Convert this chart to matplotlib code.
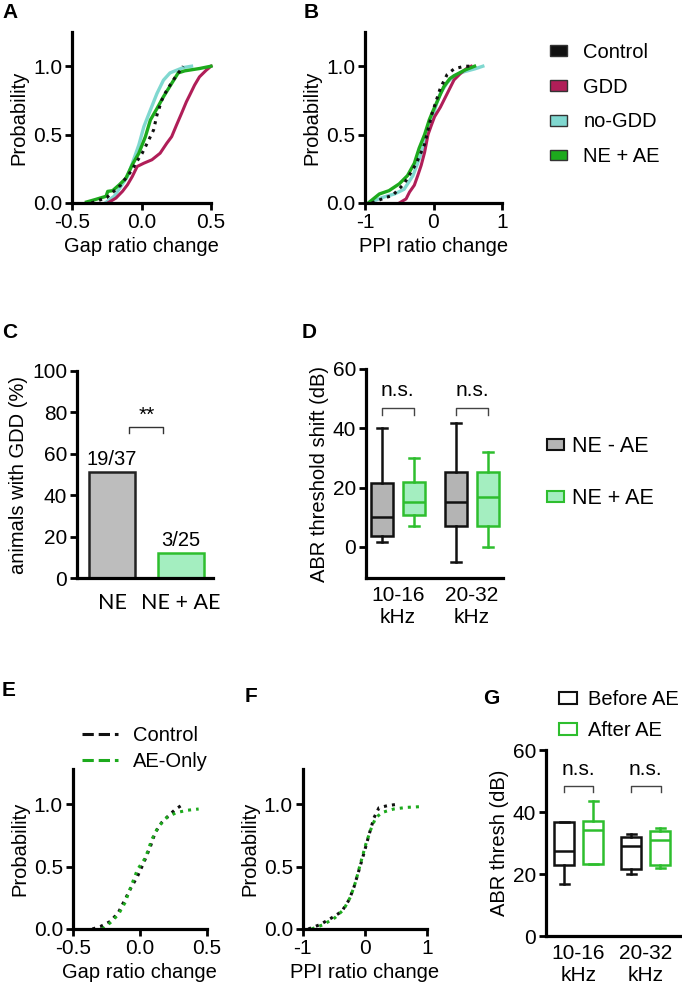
import matplotlib
matplotlib.use('Agg')
import matplotlib.pyplot as plt
from matplotlib.patches import Patch
from matplotlib.lines import Line2D

plt.rcParams['font.family'] = ['Liberation Sans', 'DejaVu Sans']
plt.rcParams['axes.unicode_minus'] = False

# ---------------- data ----------------
# Panel A: cumulative probability vs gap ratio change
a_ctrl_x = [-0.36, -0.25, -0.15, -0.10, -0.066, -0.042, 0.005, 0.052, 0.087, 0.111, 0.146, 0.182, 0.229, 0.252, 0.28, 0.30]
a_ctrl_y = [0.0, 0.04, 0.13, 0.20, 0.243, 0.29, 0.364, 0.46, 0.534, 0.643, 0.752, 0.825, 0.898, 0.934, 0.97, 1.0]
a_gdd_x = [-0.243, -0.184, -0.137, -0.101, -0.066, -0.031, 0.017, 0.075, 0.134, 0.182, 0.217, 0.252, 0.288, 0.323, 0.347, 0.382, 0.417, 0.465, 0.5]
a_gdd_y = [0.0, 0.036, 0.085, 0.133, 0.194, 0.267, 0.291, 0.316, 0.364, 0.437, 0.485, 0.57, 0.655, 0.74, 0.789, 0.862, 0.922, 0.97, 1.0]
a_nogdd_x = [-0.255, -0.196, -0.149, -0.101, -0.066, -0.019, 0.017, 0.064, 0.111, 0.158, 0.205, 0.30, 0.36]
a_nogdd_y = [0.005, 0.05, 0.12, 0.194, 0.29, 0.425, 0.558, 0.68, 0.80, 0.898, 0.951, 0.99, 1.0]
a_neae_x = [-0.396, -0.337, -0.255, -0.243, -0.208, -0.16, -0.113, -0.066, -0.019, 0.028, 0.064, 0.111, 0.158, 0.217, 0.264, 0.311, 0.417, 0.5]
a_neae_y = [0.007, 0.024, 0.049, 0.085, 0.09, 0.133, 0.18, 0.28, 0.364, 0.485, 0.607, 0.69, 0.777, 0.874, 0.951, 0.966, 0.983, 1.0]

# Panel B: cumulative probability vs PPI ratio change
b_ctrl_x = [-0.9, -0.7, -0.6, -0.43, -0.25, -0.13, -0.03, 0.1, 0.2, 0.3, 0.45, 0.55]
b_ctrl_y = [0.0, 0.04, 0.054, 0.14, 0.29, 0.43, 0.64, 0.84, 0.94, 0.98, 1.0, 1.0]
b_gdd_x = [-0.5, -0.4, -0.35, -0.28, -0.23, -0.18, -0.13, -0.08, -0.03, 0.015, 0.1, 0.24, 0.3, 0.4, 0.5, 0.55]
b_gdd_y = [0.0, 0.03, 0.08, 0.13, 0.2, 0.275, 0.37, 0.5, 0.57, 0.63, 0.70, 0.84, 0.9, 0.95, 0.99, 1.0]
b_nogdd_x = [-0.92, -0.75, -0.57, -0.43, -0.30, -0.21, -0.11, -0.03, 0.04, 0.1, 0.2, 0.3, 0.45, 0.6, 0.72]
b_nogdd_y = [0.005, 0.04, 0.066, 0.10, 0.20, 0.32, 0.47, 0.59, 0.72, 0.8, 0.88, 0.93, 0.96, 0.98, 1.0]
b_neae_x = [-0.94, -0.79, -0.65, -0.5, -0.38, -0.28, -0.21, -0.13, -0.06, -0.01, 0.064, 0.15, 0.24, 0.3, 0.45, 0.6]
b_neae_y = [0.005, 0.066, 0.09, 0.14, 0.2, 0.29, 0.40, 0.50, 0.61, 0.67, 0.754, 0.85, 0.91, 0.93, 0.97, 1.0]

# Panel C
c_groups = ['NE', 'NE + AE']
c_values = [19 / 37 * 100, 3 / 25 * 100]
c_labels = ['19/37', '3/25']

# Panel D: ABR threshold shift box stats (whislo, q1, med, q3, whishi)
d_freqs = ['10-16\nkHz', '20-32\nkHz']
d_ne_minus = [(1.6, 3.5, 10.0, 21.6, 40.0), (-5.0, 7.2, 15.1, 25.2, 41.7)]
d_ne_plus = [(6.9, 10.8, 15.1, 21.8, 30.0), (0.0, 7.2, 16.7, 25.2, 32.0)]

# Panel E
e_ctrl_x = [-0.353, -0.293, -0.22, -0.16, -0.11, -0.065, -0.017, 0.03, 0.08, 0.115, 0.163, 0.223, 0.27, 0.32]
e_ctrl_y = [0.0, 0.02, 0.06, 0.13, 0.235, 0.33, 0.42, 0.53, 0.66, 0.77, 0.85, 0.915, 0.96, 0.995]
e_ae_x = [-0.28, -0.22, -0.16, -0.11, -0.065, -0.017, 0.043, 0.09, 0.14, 0.2, 0.27, 0.356, 0.44]
e_ae_y = [0.0, 0.05, 0.115, 0.21, 0.34, 0.475, 0.57, 0.715, 0.82, 0.89, 0.93, 0.95, 0.96]

# Panel F
f_ctrl_x = [-0.91, -0.72, -0.53, -0.37, -0.25, -0.17, -0.09, -0.01, 0.07, 0.15, 0.23, 0.37, 0.56]
f_ctrl_y = [0.0, 0.035, 0.09, 0.14, 0.235, 0.34, 0.475, 0.61, 0.755, 0.89, 0.97, 0.987, 1.0]
f_ae_x = [-0.855, -0.667, -0.48, -0.34, -0.226, -0.145, -0.065, 0.016, 0.097, 0.177, 0.285, 0.47, 0.68, 0.95]
f_ae_y = [0.0, 0.035, 0.09, 0.155, 0.26, 0.38, 0.53, 0.675, 0.795, 0.89, 0.933, 0.96, 0.973, 0.98]

# Panel G: ABR threshold (whislo, q1, med, q3, whishi)
g_freqs = ['10-16\nkHz', '20-32\nkHz']
g_before = [(16.8, 22.9, 27.4, 36.7, 36.7), (20.0, 21.5, 29.0, 32.0, 33.0)]
g_after = [(23.2, 23.2, 34.2, 37.2, 43.5), (22.0, 23.0, 31.0, 34.0, 35.0)]

# ---------------- style ----------------
C_CTRL = '#111111'
C_GDD = '#B01E58'
C_NOGDD = '#80D8D0'
C_NEAE = '#1DAA1D'
C_MINT = '#A4EEC0'
C_GEDGE = '#2EBE2E'
C_GREY = '#B4B4B4'

W, H = 682, 991
fig = plt.figure(figsize=(W / 100, H / 100), dpi=100)
TS = 15
LS = 14.5


def ax_px(x0, x1, ytop, ybot):
    return fig.add_axes([x0 / W, 1 - ybot / H, (x1 - x0) / W, (ybot - ytop) / H])


def style(ax):
    for s in ['top', 'right']:
        ax.spines[s].set_visible(False)
    for s in ['left', 'bottom']:
        ax.spines[s].set_linewidth(2.3)
    ax.tick_params(width=2, length=5, labelsize=TS, direction='out', pad=2)


def panel(x, y, s):
    fig.text(x / W, 1 - y / H, s, fontsize=15, fontweight='bold', ha='left', va='center')


# ---- A ----
axA = ax_px(72, 211, 32, 203)
style(axA)
axA.plot(a_nogdd_x, a_nogdd_y, color=C_NOGDD, lw=2.4, clip_on=False)
axA.plot(a_gdd_x, a_gdd_y, color=C_GDD, lw=2.2, clip_on=False)
axA.plot(a_neae_x, a_neae_y, color=C_NEAE, lw=2.4, clip_on=False)
axA.plot(a_ctrl_x, a_ctrl_y, color=C_CTRL, lw=2.2, ls=':', clip_on=False)
axA.set_xlim(-0.5, 0.5)
axA.set_ylim(0, 1.25)
axA.set_xticks([-0.5, 0, 0.5], ['-0.5', '0.0', '0.5'])
axA.set_yticks([0, 0.5, 1.0], ['0.0', '0.5', '1.0'])
axA.set_xlabel('Gap ratio change', fontsize=LS, labelpad=4)
axA.set_ylabel('Probability', fontsize=LS, labelpad=3)
panel(2, 13, 'A')

# ---- B ----
axB = ax_px(365, 502, 32, 203)
style(axB)
axB.plot(b_nogdd_x, b_nogdd_y, color=C_NOGDD, lw=2.4, clip_on=False)
axB.plot(b_gdd_x, b_gdd_y, color=C_GDD, lw=2.2, clip_on=False)
axB.plot(b_neae_x, b_neae_y, color=C_NEAE, lw=2.4, clip_on=False)
axB.plot(b_ctrl_x, b_ctrl_y, color=C_CTRL, lw=2.2, ls=':', clip_on=False)
axB.set_xlim(-1, 1)
axB.set_ylim(0, 1.25)
axB.set_xticks([-1, 0, 1], ['-1', '0', '1'])
axB.set_yticks([0, 0.5, 1.0], ['0.0', '0.5', '1.0'])
axB.set_xlabel('PPI ratio change', fontsize=LS, labelpad=4)
axB.set_ylabel('Probability', fontsize=LS, labelpad=3)
panel(304, 13, 'B')

hA = [Patch(facecolor=c, edgecolor='#333333', lw=1.0) for c in [C_CTRL, C_GDD, C_NOGDD, C_NEAE]]
fig.legend(hA, ['Control', 'GDD', 'no-GDD', 'NE + AE'], loc='upper left',
           bbox_to_anchor=(550 / W, 1 - 43 / H), frameon=False, fontsize=14.5,
           handlelength=0.85, handleheight=0.45, labelspacing=0.78, handletextpad=0.8,
           borderaxespad=0, borderpad=0)

# ---- C ----
axC = ax_px(77, 213, 371, 578)
style(axC)
axC.bar([0, 1], c_values, width=0.67, color=['#BDBDBD', C_MINT],
        edgecolor=['#222222', C_GEDGE], lw=1.8)
for i, (v, lab) in enumerate(zip(c_values, c_labels)):
    axC.text(i, v + 1.5, lab, ha='center', va='bottom', fontsize=14.5)
axC.set_xlim(-0.51, 1.47)
axC.set_ylim(0, 100)
axC.set_yticks([0, 20, 40, 60, 80, 100])
axC.set_xticks([0, 1], c_groups, fontfamily='Lato', fontsize=15.5)
axC.tick_params(axis='x', length=0, pad=11)
axC.set_ylabel('animals with GDD (%)', fontsize=LS, labelpad=3)
axC.plot([0.25, 0.25, 0.74, 0.74], [70, 72.8, 72.8, 70], color='#333333', lw=1.0)
axC.text(0.5, 74, '**', ha='center', va='bottom', fontsize=15)
panel(2, 333, 'C')


def draw_boxes(ax, left_stats, right_stats, left_style, right_style, off, width):
    for stats, pos_off, st in [(left_stats, -off, left_style), (right_stats, off, right_style)]:
        bx = [dict(whislo=s[0], q1=s[1], med=s[2], q3=s[3], whishi=s[4], fliers=[]) for s in stats]
        pos = [i + pos_off for i in range(len(stats))]
        fc, ec = st
        ax.bxp(bx, positions=pos, widths=width, showfliers=False, patch_artist=True,
               capwidths=width * 0.45,
               boxprops=dict(facecolor=fc, edgecolor=ec, lw=1.8),
               medianprops=dict(color=ec, lw=1.8),
               whiskerprops=dict(color=ec, lw=1.8),
               capprops=dict(color=ec, lw=1.8))


# ---- D ----
axD = ax_px(366, 503, 369, 578)
style(axD)
draw_boxes(axD, d_ne_minus, d_ne_plus, (C_GREY, '#111111'), (C_MINT, C_GEDGE), 0.213, 0.297)
axD.set_xlim(-0.43, 1.42)
axD.set_ylim(-10.5, 60)
axD.set_yticks([0, 20, 40, 60])
axD.set_xticks([0, 1], d_freqs)
axD.tick_params(axis='x', length=0, pad=6)
axD.set_ylabel('ABR threshold shift (dB)', fontsize=LS, labelpad=3)
for g in range(2):
    axD.plot([g - 0.213, g - 0.213, g + 0.213, g + 0.213], [44.4, 47, 47, 44.4], color='#444444', lw=1.0)
    axD.text(g, 49.5, 'n.s.', ha='center', va='bottom', fontsize=15)
panel(302, 333, 'D')
hD = [Patch(facecolor=C_GREY, edgecolor='#111111', lw=1.5), Patch(facecolor=C_MINT, edgecolor=C_GEDGE, lw=1.5)]
fig.legend(hD, ['NE - AE', 'NE + AE'], loc='upper left', bbox_to_anchor=(547 / W, 1 - 436 / H),
           frameon=False, fontsize=15.5, handlelength=0.8, handleheight=0.4, labelspacing=1.45,
           handletextpad=0.35, borderaxespad=0, borderpad=0)

# ---- E ----
axE = ax_px(72.7, 206.7, 769, 929)
style(axE)
axE.plot(e_ctrl_x, e_ctrl_y, color=C_CTRL, lw=2.2, ls=':', clip_on=False)
axE.plot(e_ae_x, e_ae_y, color=C_NEAE, lw=2.2, ls=':', clip_on=False)
axE.set_xlim(-0.5, 0.5)
axE.set_ylim(0, 1.28)
axE.set_xticks([-0.5, 0, 0.5], ['-0.5', '0.0', '0.5'])
axE.set_yticks([0, 0.5, 1.0], ['0.0', '0.5', '1.0'])
axE.set_xlabel('Gap ratio change', fontsize=LS, labelpad=4)
axE.set_ylabel('Probability', fontsize=LS, labelpad=3)
panel(2, 690, 'E')
hE = [Line2D([], [], color=C_CTRL, ls='--', lw=2.2), Line2D([], [], color=C_NEAE, ls='--', lw=2.2)]
fig.legend(hE, ['Control', 'AE-Only'], loc='upper left', bbox_to_anchor=(82 / W, 1 - 726 / H),
           frameon=False, fontsize=14.5, handlelength=1.8, labelspacing=0.35, handletextpad=0.75,
           borderaxespad=0, borderpad=0)

# ---- F ----
axF = ax_px(302.7, 426.7, 769, 929)
style(axF)
axF.plot(f_ctrl_x, f_ctrl_y, color=C_CTRL, lw=2.2, ls=':', clip_on=False)
axF.plot(f_ae_x, f_ae_y, color=C_NEAE, lw=2.2, ls=':', clip_on=False)
axF.set_xlim(-1, 1)
axF.set_ylim(0, 1.28)
axF.set_xticks([-1, 0, 1], ['-1', '0', '1'])
axF.set_yticks([0, 0.5, 1.0], ['0.0', '0.5', '1.0'])
axF.set_xlabel('PPI ratio change', fontsize=LS, labelpad=4)
axF.set_ylabel('Probability', fontsize=LS, labelpad=3)
panel(245, 697, 'F')

# ---- G ----
axG = ax_px(546, 680, 750, 936)
style(axG)
draw_boxes(axG, g_before, g_after, ('white', '#111111'), ('white', C_GEDGE), 0.216, 0.3)
axG.set_xlim(-0.485, 1.51)
axG.set_ylim(0, 60)
axG.set_yticks([0, 20, 40, 60])
axG.set_xticks([0, 1], g_freqs)
axG.tick_params(axis='x', length=0, pad=6)
axG.set_ylabel('ABR thresh (dB)', fontsize=LS, labelpad=3)
for g in range(2):
    axG.plot([g - 0.22, g - 0.22, g + 0.22, g + 0.22], [46.5, 48.4, 48.4, 46.5], color='#444444', lw=1.0)
    axG.text(g, 50.5, 'n.s.', ha='center', va='bottom', fontsize=15)
panel(483, 698, 'G')
hG = [Patch(facecolor='white', edgecolor='#111111', lw=1.5), Patch(facecolor='white', edgecolor=C_GEDGE, lw=1.5)]
fig.legend(hG, ['Before AE', 'After AE'], loc='upper left', bbox_to_anchor=(559 / W, 1 - 690 / H),
           frameon=False, fontsize=14.5, handlelength=0.9, handleheight=0.55, labelspacing=0.6,
           handletextpad=0.55, borderaxespad=0, borderpad=0)

fig.savefig('out.png', dpi=100)
